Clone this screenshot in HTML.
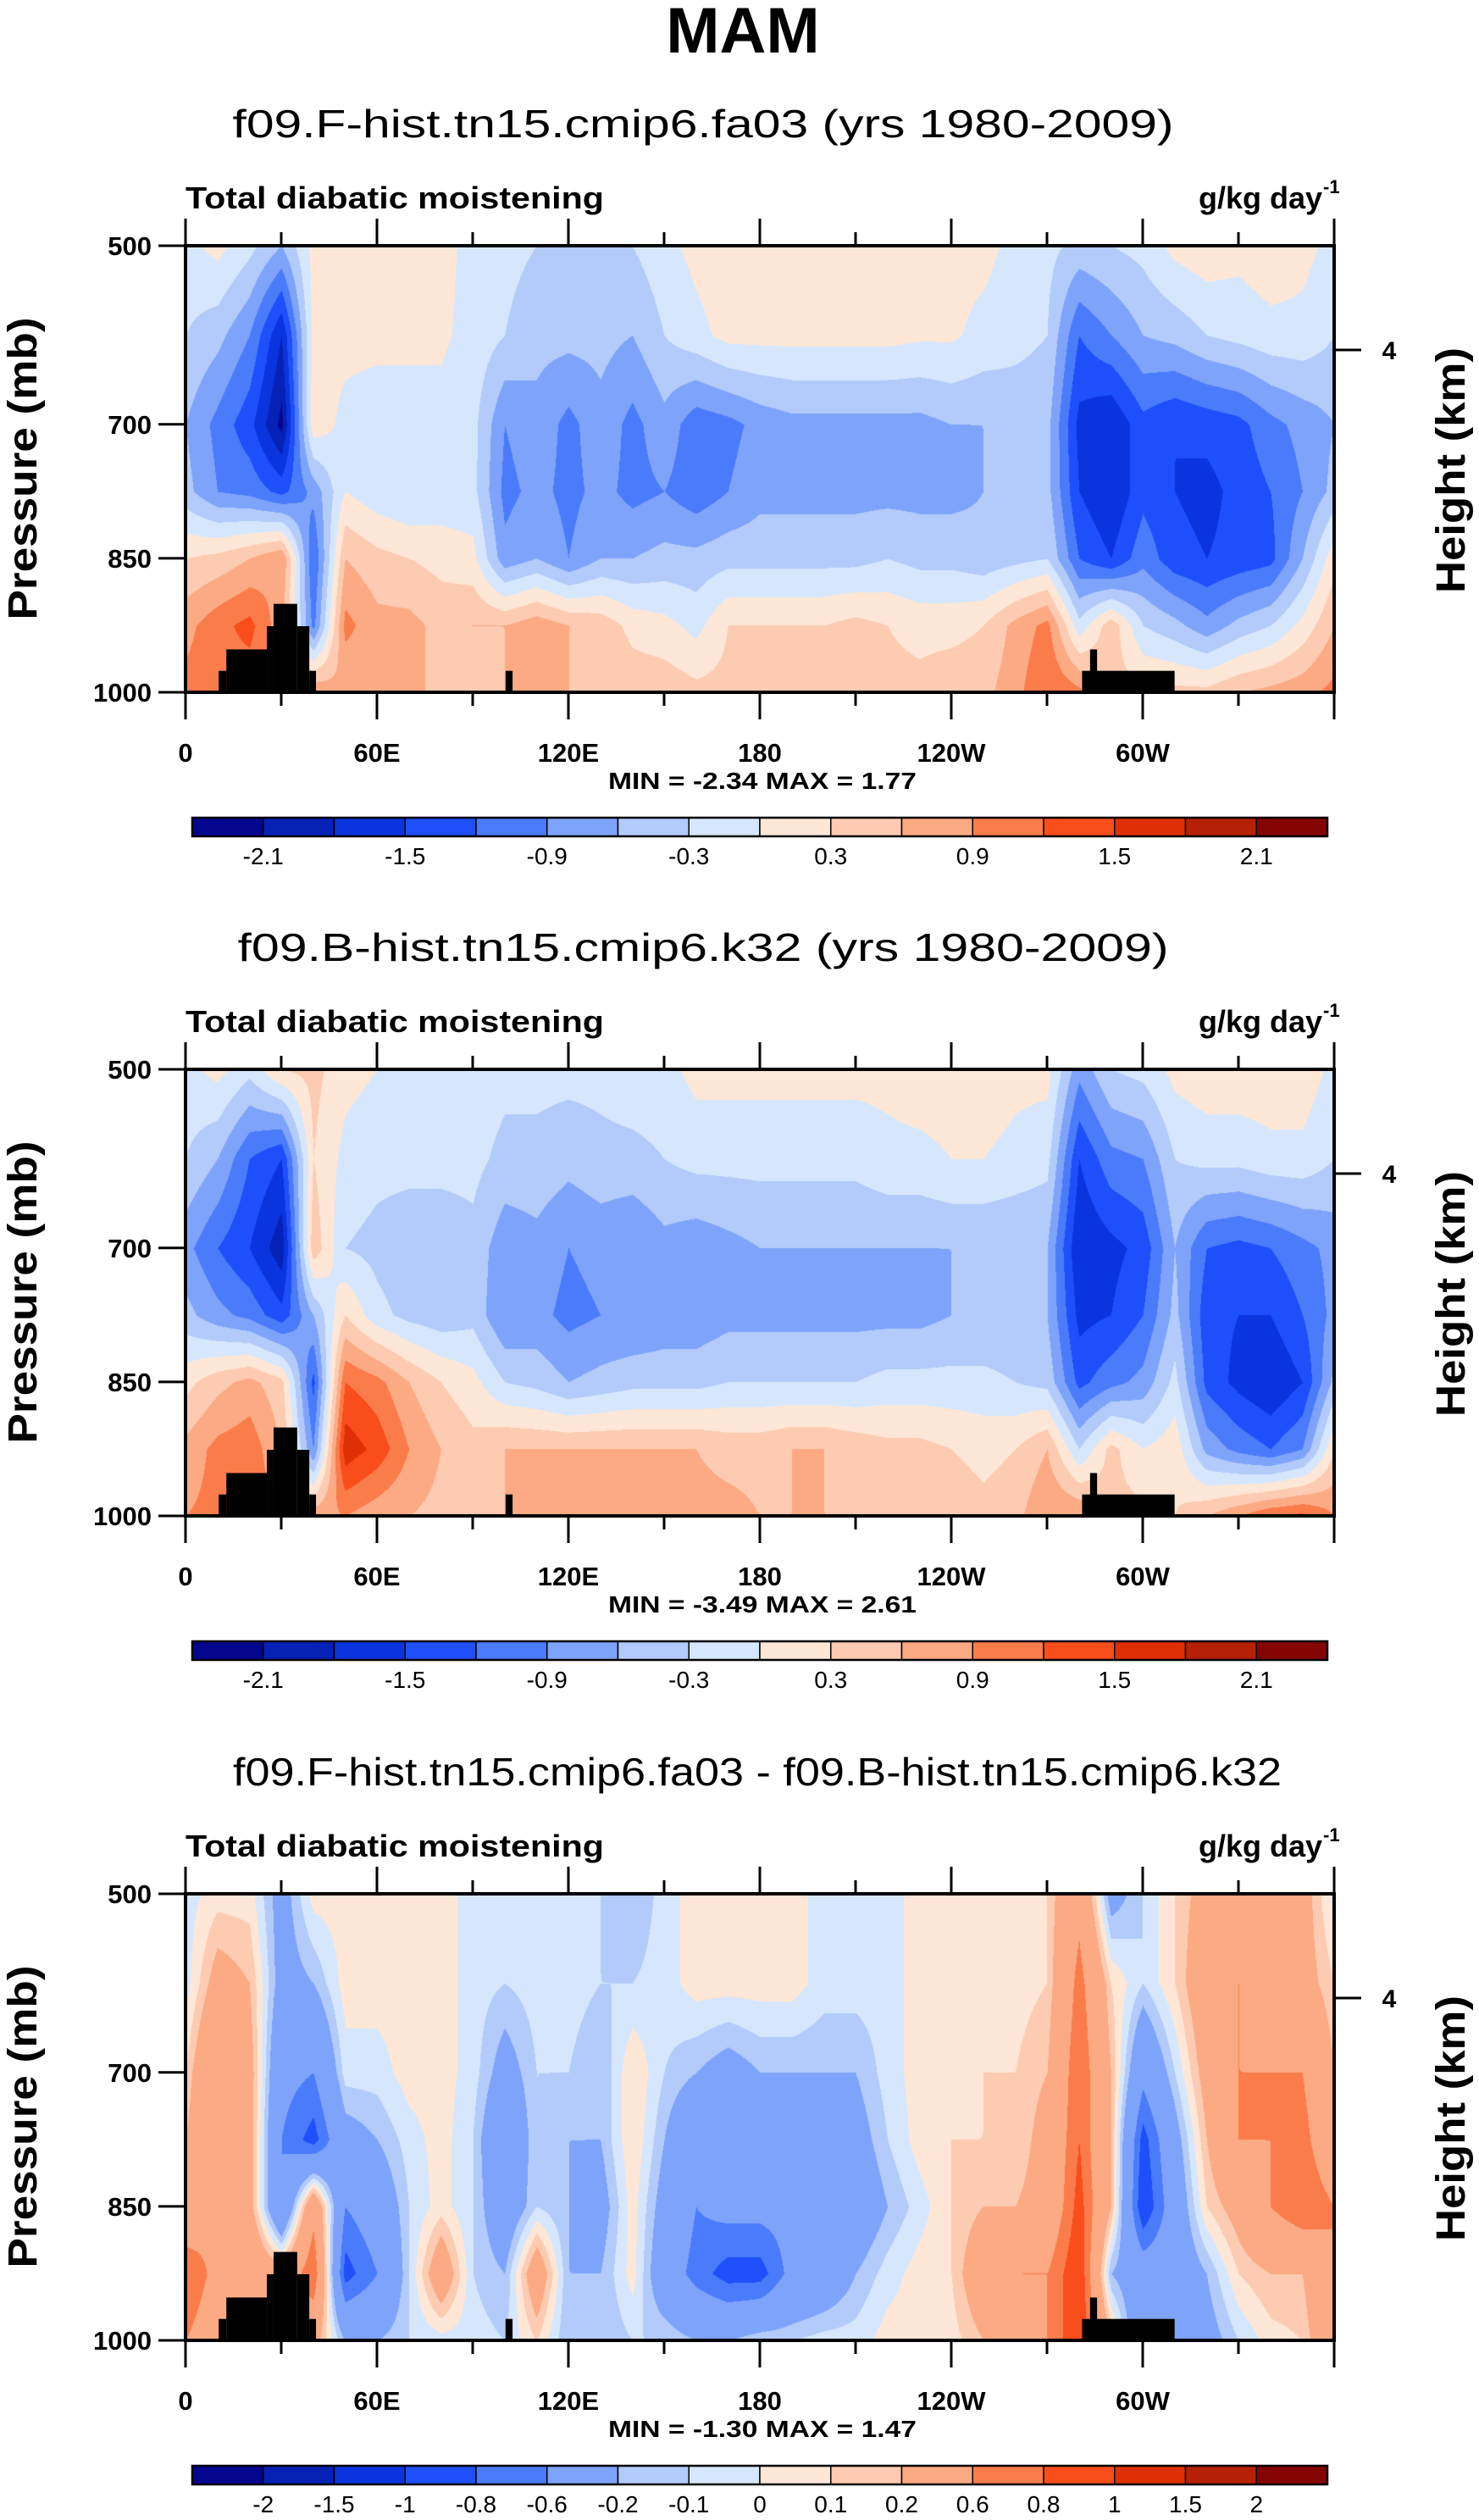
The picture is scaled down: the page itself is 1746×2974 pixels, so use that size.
<!DOCTYPE html>
<html><head><meta charset="utf-8">
<style>
html,body{margin:0;padding:0;background:#fff;}
#wrap{position:relative;width:1746px;height:2974px;overflow:hidden;}
canvas{position:absolute;}
svg{position:absolute;left:0;top:0;}
text{font-family:"Liberation Sans",Arial,sans-serif;}
</style></head><body>
<div id="wrap">
<canvas id="c0" width="1356" height="527" style="left:219px;top:290px"></canvas>
<canvas id="c1" width="1356" height="527" style="left:219px;top:1262px"></canvas>
<canvas id="c2" width="1356" height="527" style="left:219px;top:2235px"></canvas>
<svg id="svg" width="1746" height="2974"></svg>
</div>
<script>
// ---- data ----
const lons = [0,10,20,30,40,50,60,70,80,90,100,110,120,130,140,150,160,170,180,190,200,210,220,230,240,250,260,270,280,290,300,310,320,330,340,350,360];
const levels = [500,600,700,775,850,925,1000];
const panel1Values = [
[-0.1,0.1,-0.2,-0.6,0.1,0.2,0.2,0.2,0.1,-0.1,-0.2,-0.3,-0.3,-0.4,-0.3,-0.1,0.1,0.2,0.2,0.2,0.2,0.2,0.2,0.2,0.1,0.1,-0.1,-0.2,-0.4,-0.3,-0.2,0.1,0.2,0.1,0.2,0.1,-0.1],
[-0.3,-0.5,-0.9,-1.8,0.1,0.1,0.1,0.1,0.05,-0.1,-0.3,-0.5,-0.5,-0.5,-0.6,-0.3,-0.1,0.1,0.1,0.1,0.1,0.1,0.1,0.05,0.05,-0.1,-0.2,-0.3,-1.2,-0.9,-0.6,-0.5,-0.3,-0.2,-0.1,-0.1,-0.3],
[-0.6,-1.0,-1.4,-2.2,0.2,-0.1,-0.2,-0.2,-0.1,-0.2,-0.9,-0.7,-1.0,-0.7,-1.0,-0.7,-1.1,-1.0,-0.8,-0.7,-0.7,-0.7,-0.7,-0.7,-0.6,-0.6,-0.5,-0.5,-1.6,-1.8,-1.3,-1.5,-1.4,-1.3,-1.0,-0.8,-0.6],
[-0.5,-0.9,-1.0,-1.3,-0.8,0.0,-0.2,-0.3,-0.2,-0.2,-1.0,-0.8,-1.0,-0.8,-1.0,-0.9,-1.1,-0.9,-0.7,-0.7,-0.7,-0.7,-0.7,-0.7,-0.7,-0.6,-0.5,-0.5,-1.5,-1.8,-1.3,-1.5,-1.6,-1.4,-1.2,-0.9,-0.5],
[0.3,0.4,0.6,0.9,-1.2,0.6,0.4,0.3,0.2,0.1,-0.8,-0.6,-0.9,-0.6,-0.6,-0.5,-0.5,-0.4,-0.4,-0.4,-0.4,-0.4,-0.3,-0.4,-0.4,-0.5,-0.4,-0.3,-1.2,-1.5,-1.0,-1.4,-1.5,-1.4,-1.3,-0.6,0.2],
[0.8,1.1,1.3,0.7,-1.0,1.0,0.7,0.7,0.5,0.6,0.6,0.8,0.6,0.5,0.2,0.1,-0.1,0.3,0.3,0.3,0.3,0.4,0.3,0.2,0.2,0.3,0.7,1.0,-0.2,0.5,-0.3,-0.5,-0.8,-0.5,-0.3,0.1,0.6],
[1.0,1.1,1.0,1.0,0.9,0.6,0.6,0.6,0.6,0.5,0.6,0.6,0.6,0.6,0.5,0.5,0.4,0.4,0.4,0.4,0.4,0.4,0.4,0.4,0.5,0.5,0.8,1.2,1.0,0.4,0.4,0.4,0.4,0.6,0.7,0.8,1.0]];
const panel2Values = [
[-0.1,0.1,-0.2,0.3,0.4,0.1,0.0,-0.1,-0.1,-0.1,-0.2,-0.2,-0.2,-0.2,-0.1,-0.1,0.1,0.1,0.1,0.1,0.1,0.1,0.1,0.2,0.2,0.2,0.1,0.1,-0.8,-0.3,-0.2,0.1,0.2,0.2,0.2,0.2,-0.1],
[-0.3,-0.6,-1.2,-1.5,0.3,-0.1,-0.2,-0.2,-0.2,-0.2,-0.4,-0.4,-0.5,-0.4,-0.4,-0.3,-0.2,-0.2,-0.2,-0.2,-0.2,-0.2,-0.1,-0.1,0.0,0.0,-0.1,-0.2,-1.5,-1.0,-0.9,-0.3,-0.2,-0.2,-0.1,-0.1,-0.3],
[-0.8,-1.2,-1.5,-2.0,0.5,-0.3,-0.4,-0.5,-0.5,-0.4,-0.8,-0.7,-0.9,-0.8,-0.9,-0.7,-0.8,-0.7,-0.6,-0.6,-0.6,-0.6,-0.6,-0.6,-0.6,-0.6,-0.6,-0.6,-1.8,-1.6,-1.4,-0.6,-1.2,-1.3,-1.2,-1.0,-0.8],
[-0.5,-0.8,-1.0,-1.4,-0.6,0.3,-0.2,-0.4,-0.5,-0.4,-0.9,-0.8,-1.0,-0.9,-0.9,-0.8,-0.8,-0.7,-0.7,-0.7,-0.7,-0.7,-0.7,-0.7,-0.6,-0.6,-0.6,-0.6,-1.6,-1.5,-1.2,-0.5,-1.4,-1.5,-1.5,-1.2,-0.8],
[0.2,0.5,0.7,0.4,-1.3,1.2,1.0,0.6,0.3,0.1,-0.3,-0.4,-0.6,-0.5,-0.4,-0.4,-0.4,-0.3,-0.3,-0.3,-0.3,-0.3,-0.2,-0.2,-0.2,-0.2,-0.3,-0.4,-1.3,-1.0,-0.8,-0.2,-1.3,-1.6,-1.8,-1.5,-0.5],
[0.7,1.0,1.1,0.6,-0.9,1.7,1.4,0.9,0.6,0.4,0.6,0.6,0.6,0.6,0.6,0.6,0.6,0.5,0.5,0.6,0.6,0.5,0.4,0.4,0.3,0.2,0.3,0.6,-0.3,0.4,0.0,0.2,-0.7,-1.0,-1.2,-0.9,0.3],
[0.9,1.0,1.0,1.0,0.8,0.9,0.7,0.6,0.5,0.5,0.6,0.6,0.6,0.6,0.7,0.7,0.7,0.7,0.6,0.6,0.6,0.6,0.5,0.5,0.5,0.4,0.5,0.9,0.9,0.4,0.4,0.3,0.6,0.9,1.2,1.3,0.9]];
const panel3Values = [
[-0.05,0.05,0.05,-0.3,0.05,0.05,0.05,0.05,0.05,-0.05,-0.1,-0.05,-0.05,-0.1,-0.2,-0.05,0.05,0.05,0.05,0.05,-0.05,-0.05,-0.05,0.05,0.05,0.05,0.05,0.1,0.5,-0.3,-0.1,0.1,0.3,0.5,0.5,0.3,-0.05],
[-0.05,0.3,0.2,-0.3,-0.2,0.05,0.05,0.05,0.05,-0.05,-0.1,-0.05,-0.05,-0.1,-0.1,-0.05,0.05,0.05,0.05,0.05,-0.05,-0.05,-0.05,0.05,0.05,0.05,0.05,0.1,0.7,0.1,-0.1,0.1,0.4,0.6,0.5,0.3,0.1],
[0.1,0.6,0.3,-0.5,-0.6,-0.05,-0.05,0.05,0.05,-0.05,-0.3,-0.1,-0.1,-0.2,0.1,-0.1,-0.2,-0.3,-0.2,-0.2,-0.2,-0.2,-0.05,0.05,0.05,0.1,0.1,0.2,0.8,0.2,-0.5,-0.1,0.3,0.6,0.6,0.6,0.2],
[0.2,0.6,0.3,-0.6,-0.9,-0.3,-0.2,-0.05,0.05,-0.1,-0.5,-0.1,-0.2,-0.2,0.1,-0.2,-0.5,-0.4,-0.3,-0.4,-0.3,-0.3,-0.1,0.05,0.1,0.1,0.1,0.3,0.8,0.2,-0.9,-0.3,0.2,0.6,0.6,0.7,0.3],
[0.3,0.6,0.3,-0.6,0.5,-0.6,-0.4,-0.1,0.05,-0.1,-0.4,-0.1,-0.2,-0.3,0.05,-0.3,-0.6,-0.5,-0.5,-0.5,-0.5,-0.4,-0.2,-0.05,0.1,0.2,0.2,0.3,0.9,0.2,-1.0,-0.4,0.1,0.3,0.6,0.8,0.6],
[0.8,0.5,0.5,0.3,0.8,-0.9,-0.6,-0.1,0.4,-0.1,-0.2,0.4,-0.2,-0.2,0.05,-0.4,-0.7,-0.9,-0.9,-0.5,-0.4,-0.2,-0.05,0.05,0.1,0.4,0.6,0.6,1.0,-0.2,-0.4,-0.4,-0.2,0.1,0.2,0.2,0.6],
[0.6,0.4,0.5,0.5,0.3,-0.2,-0.2,-0.1,-0.05,-0.05,-0.1,0.1,-0.2,-0.2,-0.1,-0.1,-0.2,-0.2,-0.1,-0.1,-0.05,-0.05,0.05,0.05,0.05,0.2,0.4,0.6,1.0,0.2,-0.5,-0.6,-0.3,-0.1,0.05,0.1,0.5]];
const bounds12 = [-2.1,-1.8,-1.5,-1.2,-0.9,-0.6,-0.3,0,0.3,0.6,0.9,1.2,1.5,1.8,2.1];
const labels12 = ["-2.1","","-1.5","","-0.9","","-0.3","","0.3","","0.9","","1.5","","2.1"];
const bounds3 = [-2,-1.5,-1,-0.8,-0.6,-0.2,-0.1,0,0.1,0.2,0.6,0.8,1,1.5,2];
const labels3 = ["-2","-1.5","-1","-0.8","-0.6","-0.2","-0.1","0","0.1","0.2","0.6","0.8","1","1.5","2"];
const palette = ["#05068f","#0621b6","#0a34de","#1e4ffa","#4a7bfa","#7ea3fa","#b2cbfb","#d6e7fd","#fee7d6","#fdcbb1","#fcaa84","#fb7c4b","#fa4d1c","#df3005","#b52105","#850404"];
// topography: [lonStart, lonEnd, surfacePressure]
const topoStart = [10.4,12.8,25.5,27.6,35,38.8,100.3,281,283.5];
const topoEnd   = [12.8,25.5,27.6,35,38.8,40.9,102.5,310,285.7];
const topoPres  = [976,952,926,901,926,976,976,976,952];
const lonTickVals = [0,60,120,180,240,300];
const lonTickLabels = ["0","60E","120E","180","120W","60W"];
const presTicks = [500,700,850,1000];
const titles = ["f09.F-hist.tn15.cmip6.fa03 (yrs 1980-2009)","f09.B-hist.tn15.cmip6.k32 (yrs 1980-2009)","f09.F-hist.tn15.cmip6.fa03 - f09.B-hist.tn15.cmip6.k32"];
const minLabels = ["-2.34","-3.49","-1.30"];
const maxLabels = ["1.77","2.61","1.47"];

// ---- layout ----
const PX=219, PW=1356, PH=527;
const tops=[290,1262,2235];
const xOf = lon => PX + lon/360*PW;
const yOf = (top,p) => top + (p-500)/500*PH;

function sample(vals, lon, p){
  let i=Math.min(Math.floor(lon/10),35); let fx=(lon-lons[i])/10;
  let j=0; while(j<levels.length-2 && p>levels[j+1]) j++;
  let fy=(p-levels[j])/(levels[j+1]-levels[j]);
  const a=vals[j][i],b=vals[j][i+1],c=vals[j+1][i],d=vals[j+1][i+1];
  return (a*(1-fx)+b*fx)*(1-fy)+(c*(1-fx)+d*fx)*fy;
}
function hex(h){return [parseInt(h.substr(1,2),16),parseInt(h.substr(3,2),16),parseInt(h.substr(5,2),16)];}
const pal=palette.map(hex);
function drawField(id, vals, bounds){
  const cv=document.getElementById(id), ctx=cv.getContext('2d');
  const img=ctx.createImageData(PW,PH);
  for(let y=0;y<PH;y++){ const p=500+y/PH*500;
    for(let x=0;x<PW;x++){ const lon=x/PW*360;
      const v=sample(vals,lon,p)+1e-4; let k=0; while(k<bounds.length && v>=bounds[k]) k++;
      const c=pal[k], o=(y*PW+x)*4; img.data[o]=c[0];img.data[o+1]=c[1];img.data[o+2]=c[2];img.data[o+3]=255; }}
  ctx.putImageData(img,0,0);
}
drawField('c0',panel1Values,bounds12);
drawField('c1',panel2Values,bounds12);
drawField('c2',panel3Values,bounds3);

const NS="http://www.w3.org/2000/svg";
const svg=document.getElementById('svg');
function el(tag,attrs,txt){const e=document.createElementNS(NS,tag);for(const k in attrs)e.setAttribute(k,attrs[k]);if(txt!==undefined)e.textContent=txt;svg.appendChild(e);return e;}

let e=el('text',{x:877,y:62,'text-anchor':'middle','font-size':76,'font-weight':'bold'},'MAM');



const subCx=[830,830,894], subLen=[1111,1099,1238];
for(let n=0;n<3;n++){
  const T=tops[n];
  e=el('text',{x:subCx[n],y:T-128,'text-anchor':'middle','font-size':46,textLength:subLen[n],lengthAdjust:'spacingAndGlyphs'},titles[n]);
  
  
  e=el('text',{x:219,y:T-44,'font-size':36,'font-weight':'bold',textLength:494,lengthAdjust:'spacingAndGlyphs'},'Total diabatic moistening');
  
  
  e=el('text',{x:1561,y:T-44,'text-anchor':'end','font-size':36,'font-weight':'bold'},'g/kg day');
  
  
  e=el('text',{x:1562,y:T-62,'font-size':22,'font-weight':'bold'},'-1');
  
  
  for(let k=0;k<topoStart.length;k++){
    e=el('rect',{x:xOf(topoStart[k]),y:yOf(T,topoPres[k]),width:xOf(topoEnd[k])-xOf(topoStart[k]),height:yOf(T,1000)-yOf(T,topoPres[k]),fill:'#000'});
    
    
  }
  e=el('rect',{x:PX,y:T,width:PW,height:PH,fill:'none',stroke:'#000','stroke-width':4});
  
  
  for(let lon=0;lon<=360;lon+=30){
    const major=lon%60===0, L=major?32:16, x=xOf(lon);
    e=el('line',{x1:x,x2:x,y1:T+PH,y2:T+PH+L,stroke:'#000','stroke-width':3});
    
    
    e=el('line',{x1:x,x2:x,y1:T,y2:T-L,stroke:'#000','stroke-width':3});
    
    
  }
  for(let k=0;k<lonTickVals.length;k++){
    e=el('text',{x:xOf(lonTickVals[k]),y:T+PH+82,'text-anchor':'middle','font-size':31,'font-weight':'bold'},lonTickLabels[k]);
    
    
  }
  for(const p of presTicks){
    const y=yOf(T,p);
    e=el('line',{x1:PX-32,x2:PX,y1:y,y2:y,stroke:'#000','stroke-width':3});
    
    
    e=el('text',{x:PX-40,y:y+11,'text-anchor':'end','font-size':31,'font-weight':'bold'},String(p));
    
    
  }
  e=el('line',{x1:PX+PW,x2:PX+PW+32,y1:T+123,y2:T+123,stroke:'#000','stroke-width':3});
  
  
  e=el('text',{x:1640,y:T+134,'text-anchor':'middle','font-size':30,'font-weight':'bold'},'4');
  
  
  e=el('text',{x:0,y:0,'text-anchor':'middle','font-size':48,'font-weight':'bold',transform:`translate(43,${T+263}) rotate(-90)`,textLength:357,lengthAdjust:'spacingAndGlyphs'},'Pressure (mb)');
  
  
  e=el('text',{x:0,y:0,'text-anchor':'middle','font-size':48,'font-weight':'bold',transform:`translate(1729,${T+265}) rotate(-90)`,textLength:290,lengthAdjust:'spacingAndGlyphs'},'Height (km)');
  
  
  e=el('text',{x:900,y:T+641,'text-anchor':'middle','font-size':28,'font-weight':'bold',textLength:364,lengthAdjust:'spacingAndGlyphs','xml:space':'preserve'},`MIN =  ${minLabels[n]}  MAX =   ${maxLabels[n]}`);
  
  
  const CB=T+675, CX=227, BW=1340/16;
  const labs = n<2?labels12:labels3;
  for(let k=0;k<16;k++){
    e=el('rect',{x:CX+k*BW,y:CB,width:BW,height:22,fill:palette[k],stroke:'#000','stroke-width':1.5});
    
    
  }
  e=el('rect',{x:CX,y:CB,width:1340,height:22,fill:'none',stroke:'#000','stroke-width':2.5});
  
  
  for(let k=0;k<labs.length;k++){
    if(!labs[k]) continue;
    e=el('text',{x:CX+BW*(k+1),y:CB+55,'text-anchor':'middle','font-size':28},labs[k]);
    
    
  }
}
</script>
</body></html>
